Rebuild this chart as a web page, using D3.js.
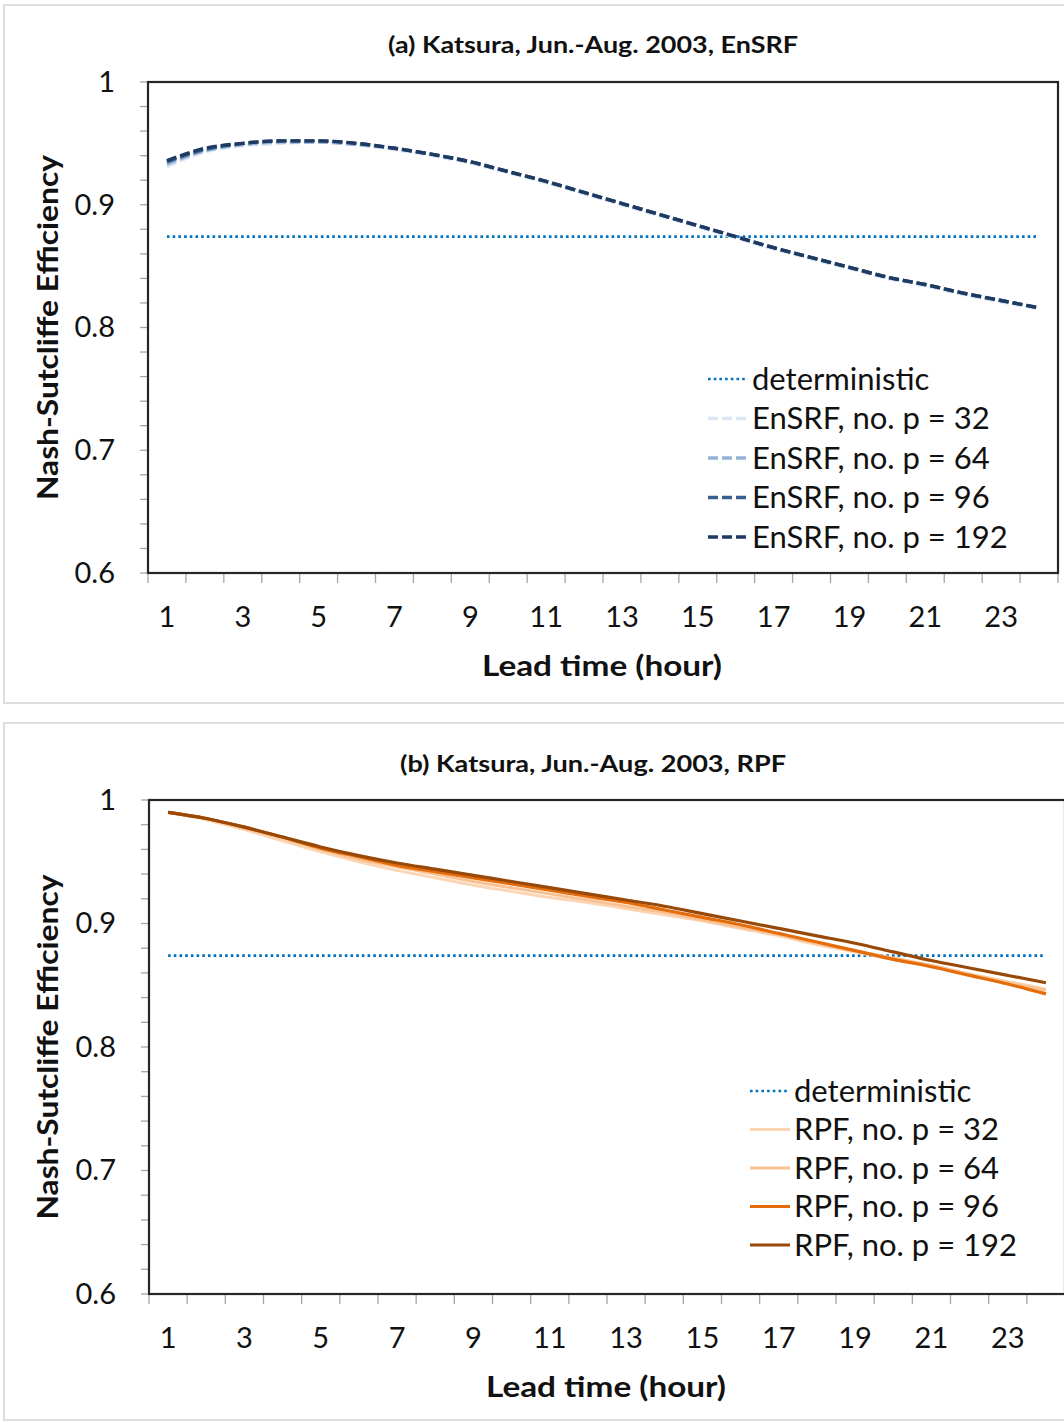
<!DOCTYPE html>
<html>
<head>
<meta charset="utf-8">
<script src="https://cdn.jsdelivr.net/npm/d3@7"></script>
<style>
  html, body { margin: 0; padding: 0; background: #fff; }
  svg { display: block; font-family: Lato, "Open Sans", sans-serif; }
</style>
</head>
<body>
<svg id="chart" width="1064" height="1422"></svg>
<script>
// Lead times (hours) and the odd ones that get a label
const leadTimes = d3.range(1, 25);
const xTickLabels = [1, 3, 5, 7, 9, 11, 13, 15, 17, 19, 21, 23];
const yTickLabels = [0.6, 0.7, 0.8, 0.9, 1];

// Deterministic forecast NSE (constant over lead time)
const deterministicNSE = 0.874;

// (a) EnSRF, Nash-Sutcliffe efficiency per lead time
const ensrf32  = [0.931,0.943,0.948,0.950,0.951,0.949,0.945,0.940,0.934,0.926,0.918,0.909,0.900,0.891,0.882,0.873,0.864,0.856,0.848,0.840,0.834,0.827,0.821,0.815];
const ensrf64  = [0.933,0.944,0.949,0.951,0.951,0.949,0.946,0.941,0.935,0.927,0.919,0.910,0.901,0.892,0.883,0.874,0.865,0.857,0.849,0.841,0.835,0.828,0.822,0.816];
const ensrf96  = [0.935,0.945,0.950,0.952,0.952,0.950,0.946,0.941,0.935,0.927,0.919,0.910,0.901,0.892,0.883,0.874,0.865,0.857,0.849,0.841,0.835,0.828,0.822,0.816];
const ensrf192 = [0.936,0.946,0.950,0.952,0.952,0.950,0.946,0.941,0.935,0.927,0.919,0.910,0.901,0.892,0.883,0.874,0.865,0.857,0.849,0.841,0.835,0.828,0.822,0.816];

// (b) RPF, Nash-Sutcliffe efficiency per lead time
const rpf32  = [0.990,0.984,0.976,0.967,0.958,0.950,0.943,0.937,0.931,0.926,0.921,0.917,0.912,0.907,0.902,0.896,0.890,0.883,0.877,0.871,0.865,0.859,0.853,0.847];
const rpf64  = [0.990,0.985,0.977,0.969,0.960,0.952,0.946,0.940,0.934,0.929,0.924,0.919,0.914,0.909,0.903,0.897,0.891,0.884,0.878,0.872,0.866,0.859,0.852,0.846];
const rpf96  = [0.990,0.985,0.978,0.970,0.961,0.954,0.947,0.942,0.937,0.932,0.927,0.922,0.917,0.911,0.905,0.899,0.892,0.885,0.878,0.871,0.865,0.858,0.851,0.843];
const rpf192 = [0.990,0.985,0.978,0.970,0.962,0.955,0.949,0.944,0.939,0.934,0.929,0.924,0.919,0.914,0.908,0.902,0.896,0.890,0.884,0.877,0.870,0.864,0.858,0.852];

const DOT = { color: "#0070c0", dash: "2.6,3.1", width: 2.6 };

const panels = [
  {
    title: "(a) Katsura, Jun.-Aug. 2003, EnSRF",
    titleLen: 410,
    box: { x: 4, y: 5, w: 1080, h: 698 },
    plot: { left: 148, top: 82, width: 910, height: 491 },
    titleY: 53,
    legend: { x: 708, y: 379, step: 39.5 },
    series: [
      { name: "EnSRF, no. p = 32",  values: ensrf32,  color: "#dce6f2", dash: "10,4", width: 3.4 },
      { name: "EnSRF, no. p = 64",  values: ensrf64,  color: "#95b3d7", dash: "10,4", width: 3.4 },
      { name: "EnSRF, no. p = 96",  values: ensrf96,  color: "#376092", dash: "10,4", width: 3.4 },
      { name: "EnSRF, no. p = 192", values: ensrf192, color: "#1f3a60", dash: "10,4", width: 3.4 }
    ]
  },
  {
    title: "(b) Katsura, Jun.-Aug. 2003, RPF",
    titleLen: 386,
    box: { x: 4, y: 723, w: 1080, h: 697 },
    plot: { left: 149, top: 800, width: 916, height: 494 },
    titleY: 772,
    legend: { x: 750, y: 1091, step: 38.5 },
    series: [
      { name: "RPF, no. p = 32",  values: rpf32,  color: "#fcd5b5", dash: null, width: 3 },
      { name: "RPF, no. p = 64",  values: rpf64,  color: "#fac090", dash: null, width: 3 },
      { name: "RPF, no. p = 96",  values: rpf96,  color: "#e46c0a", dash: null, width: 3.2 },
      { name: "RPF, no. p = 192", values: rpf192, color: "#984807", dash: null, width: 3.2 }
    ]
  }
];

const svg = d3.select("#chart");

panels.forEach(p => {
  const g = svg.append("g");
  const { left, top, width, height } = p.plot;

  // chart-area border
  g.append("rect")
    .attr("x", p.box.x).attr("y", p.box.y)
    .attr("width", p.box.w).attr("height", p.box.h)
    .attr("fill", "#fff").attr("stroke", "#d4d4d4").attr("stroke-width", 1.5);

  const x = d3.scaleBand().domain(leadTimes).range([left, left + width]).paddingInner(0).paddingOuter(0);
  const y = d3.scaleLinear().domain([0.6, 1]).range([top + height, top]);
  const cx = d => x(d) + x.bandwidth() / 2;

  // title
  g.append("text")
    .attr("x", 593).attr("y", p.titleY)
    .attr("text-anchor", "middle")
    .attr("font-size", 23).attr("font-weight", 700)
    .attr("textLength", p.titleLen).attr("lengthAdjust", "spacingAndGlyphs")
    .attr("fill", "#111")
    .text(p.title);

  // minor y ticks every 0.02
  g.append("g").selectAll("line")
    .data(d3.range(0, 21).map(i => 0.6 + i * 0.02))
    .join("line")
    .attr("x1", left - 8).attr("x2", left)
    .attr("y1", d => y(d)).attr("y2", d => y(d))
    .attr("stroke", "#a6a6a6").attr("stroke-width", 1.3);

  // y tick labels
  const yAxis = d3.axisLeft(y).tickValues(yTickLabels).tickSize(0).tickPadding(33)
    .tickFormat(d => d === 1 ? "1" : d3.format(".1f")(d));
  const ya = g.append("g").attr("transform", `translate(${left},0)`).call(yAxis);
  ya.select(".domain").remove();
  ya.selectAll("text").attr("font-size", 29).attr("fill", "#111").attr("font-family", "Lato, sans-serif");

  // x tick marks at band boundaries
  g.append("g").selectAll("line")
    .data(leadTimes.map(d => x(d)).concat([left + width]))
    .join("line")
    .attr("x1", d => d).attr("x2", d => d)
    .attr("y1", top + height).attr("y2", top + height + 10)
    .attr("stroke", "#a6a6a6").attr("stroke-width", 1.3);

  // x tick labels
  const xAxis = d3.axisBottom(x).tickValues(xTickLabels).tickSize(0).tickPadding(33);
  const xa = g.append("g").attr("transform", `translate(0,${top + height})`).call(xAxis);
  xa.select(".domain").remove();
  xa.selectAll("text").attr("font-size", 29).attr("fill", "#111").attr("font-family", "Lato, sans-serif");

  // axis titles
  g.append("text")
    .attr("x", left + width / 2 - 1).attr("y", top + height + 103)
    .attr("text-anchor", "middle")
    .attr("font-size", 29).attr("font-weight", 700).attr("fill", "#111")
    .attr("textLength", 240).attr("lengthAdjust", "spacingAndGlyphs")
    .text("Lead time (hour)");
  g.append("text")
    .attr("transform", `translate(58,${top + height / 2}) rotate(-90)`)
    .attr("text-anchor", "middle")
    .attr("font-size", 29).attr("font-weight", 700).attr("fill", "#111")
    .attr("textLength", 345).attr("lengthAdjust", "spacingAndGlyphs")
    .text("Nash-Sutcliffe Efficiency");

  // deterministic reference line
  g.append("line")
    .attr("x1", cx(1)).attr("x2", cx(24))
    .attr("y1", y(deterministicNSE)).attr("y2", y(deterministicNSE))
    .attr("stroke", DOT.color).attr("stroke-width", DOT.width)
    .attr("stroke-dasharray", DOT.dash);

  // ensemble series
  const line = d3.line().x((d, i) => cx(leadTimes[i])).y(d => y(d)).curve(d3.curveMonotoneX);
  p.series.forEach(s => {
    g.append("path")
      .datum(s.values)
      .attr("d", line)
      .attr("fill", "none")
      .attr("stroke", s.color)
      .attr("stroke-width", s.width)
      .attr("stroke-dasharray", s.dash)
      .attr("stroke-linejoin", "round");
  });

  // plot frame
  g.append("rect")
    .attr("x", left).attr("y", top).attr("width", width).attr("height", height)
    .attr("fill", "none").attr("stroke", "#262626").attr("stroke-width", 2.2);

  // legend
  const items = [{ name: "deterministic", color: DOT.color, dash: DOT.dash, width: DOT.width }].concat(p.series);
  const lg = g.append("g");
  items.forEach((it, i) => {
    const ly = p.legend.y + i * p.legend.step;
    lg.append("line")
      .attr("x1", p.legend.x).attr("x2", p.legend.x + 40)
      .attr("y1", ly).attr("y2", ly)
      .attr("stroke", it.color).attr("stroke-width", it.width)
      .attr("stroke-dasharray", it.dash);
    lg.append("text")
      .attr("x", p.legend.x + 44).attr("y", ly)
      .attr("dy", "0.35em")
      .attr("font-size", 31).attr("fill", "#111")
      .text(it.name);
  });
});
</script>
</body>
</html>
